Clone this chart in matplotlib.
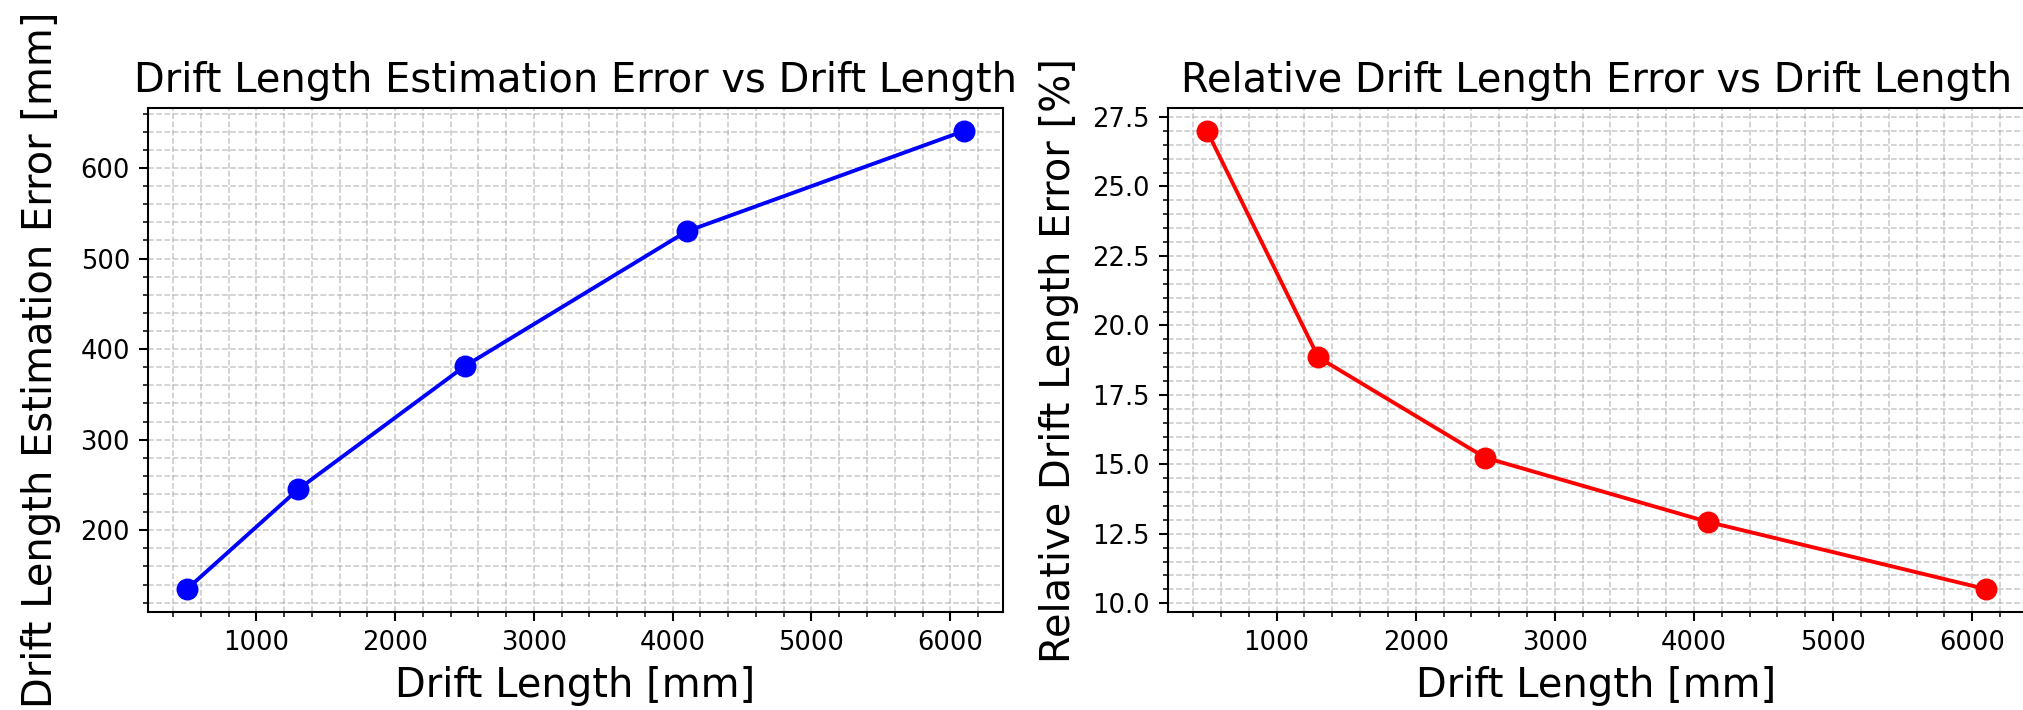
import matplotlib
matplotlib.use("Agg")
import matplotlib.pyplot as plt

# drift length [mm] and the errors
drift_length = [500, 1300, 2500, 4100, 6100]
abs_error = [135, 245, 381, 530, 641]          # mm
rel_error = [27.0, 18.85, 15.24, 12.93, 10.51]  # %

DPI = 186
fig = plt.figure(figsize=(2023 / DPI, 710 / DPI), dpi=DPI)

# the right panel runs off the edge of the picture, like in the original crop
ax1 = fig.add_axes([0.0732, 0.138, 0.4226, 0.7099])
ax2 = fig.add_axes([0.5774, 0.138, 0.4236, 0.7099])


def style(ax, title, ylabel, ypad):
    ax.set_title(title, fontsize=15.5)
    ax.set_xlabel("Drift Length [mm]", fontsize=15.5)
    ax.set_ylabel(ylabel, fontsize=15.5, labelpad=ypad)
    ax.minorticks_on()
    ax.grid(True, which="both", linestyle="--", linewidth=0.6, color="#b0b0b0", alpha=0.7)
    ax.tick_params(labelsize=10)


ax1.plot(drift_length, abs_error, "o-", color="blue", markersize=7.5, linewidth=1.5)
style(ax1, "Drift Length Estimation Error vs Drift Length", "Drift Length Estimation Error [mm]", 7.5)

ax2.plot(drift_length, rel_error, "o-", color="red", markersize=7.5, linewidth=1.5)
style(ax2, "Relative Drift Length Error vs Drift Length", "Relative Drift Length Error [%]", 5)

fig.savefig("out.png", dpi=DPI)
